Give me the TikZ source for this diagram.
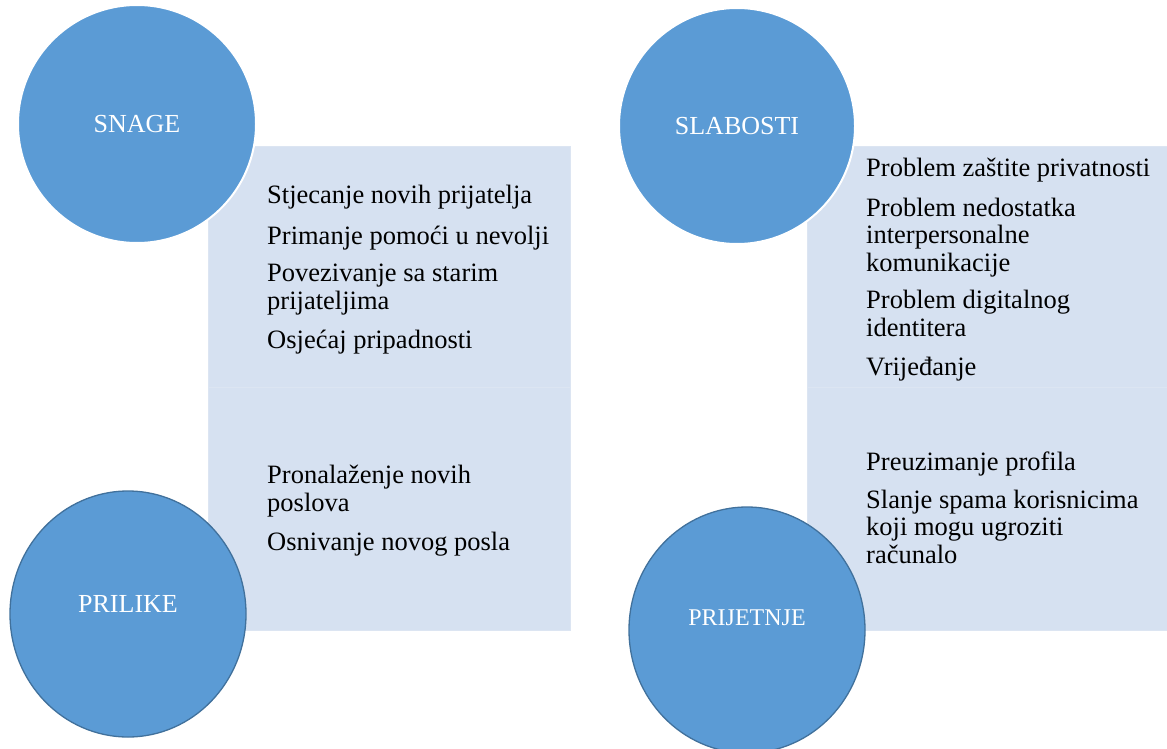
\documentclass[tikz,border=0pt]{standalone}
\usepackage{fontspec}
\setmainfont{Liberation Serif}
\definecolor{circblue}{HTML}{5B9BD5}
\definecolor{circedge}{HTML}{41719C}
\definecolor{boxfill}{HTML}{D6E1F1}
\definecolor{boxedge}{HTML}{DCE5F2}
\tikzset{
  box/.style={fill=boxfill, draw=boxedge, line width=1pt},
  topcirc/.style={fill=circblue, draw=white, line width=2pt},
  botcirc/.style={fill=circblue, draw=circedge, line width=1.3pt},
  clabel/.style={text=white, font=\fontsize{26}{28}\selectfont, inner sep=0pt},
  item/.style={anchor=base west, inner sep=0pt, text=black, font=\fontsize{26.5}{28}\selectfont},
}
\begin{document}
\begin{tikzpicture}[x=1pt, y=-1pt]
\useasboundingbox (0,0) rectangle (1167,749);
% boxes
\draw[box] (208,147) rectangle (570,387);
\draw[box] (208,387) rectangle (570,630);
\draw[box] (807,147) rectangle (1170,387);
\draw[box] (807,387) rectangle (1170,630);
% circles
\draw[topcirc] (137,124) circle (119);
\draw[topcirc] (737,126) circle (118);
\draw[botcirc] (128,614) ellipse (118 and 123);
\draw[botcirc] (747,630) ellipse (118 and 123);
\node[clabel] (snage) at (137,124) {SNAGE};
\node[clabel] (slabosti) at (737,126) {SLABOSTI};
\node[clabel] (prilike) at (128,604) {PRILIKE};
\node[clabel, font=\fontsize{24}{26}\selectfont] (prijetnje) at (747,618) {PRIJETNJE};
% strengths
\node[item] (s1) at (267,203) {Stjecanje novih prijatelja};
\node[item] (s2) at (267,244) {Primanje pomoći u nevolji};
\node[item] (s3) at (267,281) {Povezivanje sa starim};
\node[item] (s3b) at (267,309) {prijateljima};
\node[item] (s4) at (267,348) {Osjećaj pripadnosti};
% weaknesses
\node[item] (w1) at (866,176) {Problem zaštite privatnosti};
\node[item] (w2) at (866,216) {Problem nedostatka};
\node[item] (w2b) at (866,243) {interpersonalne};
\node[item] (w2c) at (866,271) {komunikacije};
\node[item] (w3) at (866,308) {Problem digitalnog};
\node[item] (w3b) at (866,336) {identitera};
\node[item] (w4) at (866,375) {Vrijeđanje};
% opportunities
\node[item] (o1) at (267,483) {Pronalaženje novih};
\node[item] (o1b) at (267,511) {poslova};
\node[item] (o2) at (267,550) {Osnivanje novog posla};
% threats
\node[item] (t1) at (866,470) {Preuzimanje profila};
\node[item] (t2) at (866,508) {Slanje spama korisnicima};
\node[item] (t2b) at (866,535) {koji mogu ugroziti};
\node[item] (t2c) at (866,563) {računalo};
\end{tikzpicture}
\end{document}
